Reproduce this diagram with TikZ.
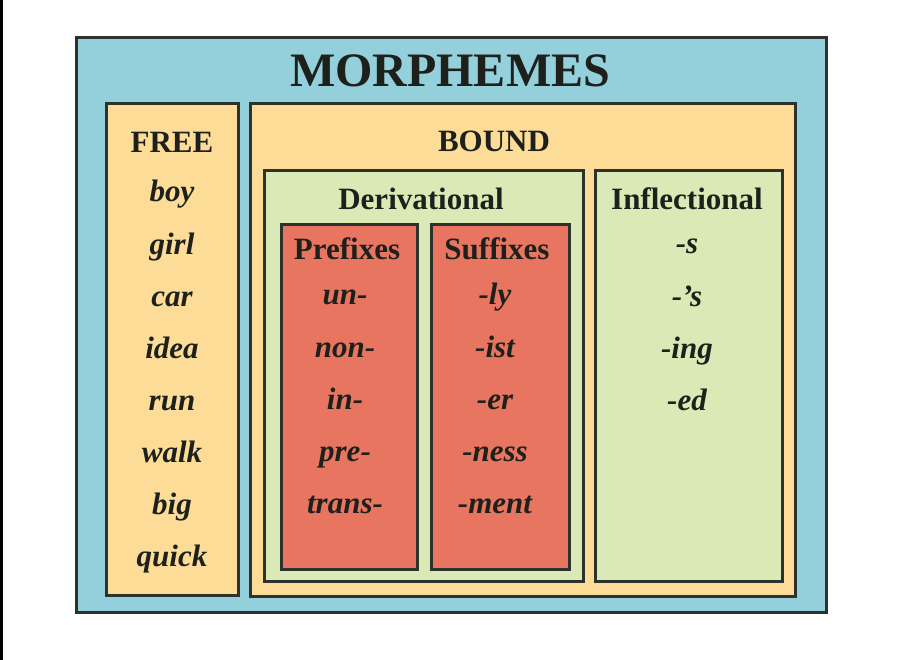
\documentclass[tikz,border=0pt]{standalone}
\usepackage{fontspec}
\setmainfont{Liberation Serif}
\usepackage{tikz}
\usetikzlibrary{positioning}
\definecolor{rim}{RGB}{45,50,45}
\definecolor{ink}{RGB}{30,32,28}
\definecolor{sky}{RGB}{148,208,219}
\definecolor{peach}{RGB}{252,220,150}
\definecolor{leaf}{RGB}{218,234,183}
\definecolor{coral}{RGB}{232,117,96}

\begin{document}
\begin{tikzpicture}[x=1pt,y=-1pt,node distance=52.1pt,
   box/.style={draw=rim, line width=3pt, inner sep=0pt},
   head/.style={font=\bfseries\fontsize{31}{31}\selectfont, text=ink,
                text height=21pt, text depth=7pt, inner sep=0pt},
   word/.style={head, font=\bfseries\itshape\fontsize{31}{31}\selectfont},
   bigtitle/.style={font=\bfseries\fontsize{48}{48}\selectfont, text=ink, inner sep=0pt}]
 \useasboundingbox (0,0) rectangle (906,660);
 \fill[black] (0,0) rectangle (3,660);
 % boxes
 \node[box, fill=sky,   minimum width=750pt, minimum height=574pt] (morph) at (451,325) {};
 \node[box, fill=peach, minimum width=132pt, minimum height=491pt] (free)  at (172,349.5) {};
 \node[box, fill=peach, minimum width=545pt, minimum height=492pt] (bound) at (522.5,350) {};
 \node[box, fill=leaf,  minimum width=319pt, minimum height=410pt] (deriv) at (423.5,376) {};
 \node[box, fill=leaf,  minimum width=187pt, minimum height=410pt] (infl)  at (688.5,376) {};
 \node[box, fill=coral, minimum width=136pt, minimum height=344pt] (pref)  at (349,397) {};
 \node[box, fill=coral, minimum width=138pt, minimum height=344pt] (suff)  at (500,397) {};
 % headings
 \node[bigtitle, anchor=base] (title) at (450,87) {MORPHEMES};
 \node[head] (freehead)  at (172,146) {FREE};
 \node[head] (boundhead) at (494,145) {BOUND};
 \node[head] (derivhead) at (421,203) {Derivational};
 \node[head] (inflhead)  at (687,203) {Inflectional};
 \node[head] (prefhead)  at (347,253) {Prefixes};
 \node[head] (suffhead)  at (497,253) {Suffixes};
 % free
 \node[word] (boy) at (172,195) {boy};
 \node[word, below of=boy]  (girl)  {girl};
 \node[word, below of=girl] (car)   {car};
 \node[word, below of=car]  (idea)  {idea};
 \node[word, below of=idea] (run)   {run};
 \node[word, below of=run]  (walk)  {walk};
 \node[word, below of=walk] (big)   {big};
 \node[word, below of=big]  (quick) {quick};
 % prefixes
 \node[word] (un) at (345,298) {un-};
 \node[word, below of=un]  (non)   {non-};
 \node[word, below of=non] (in)    {in-};
 \node[word, below of=in]  (pre)   {pre-};
 \node[word, below of=pre] (trans) {trans-};
 % suffixes
 \node[word] (ly) at (495,298) {-ly};
 \node[word, below of=ly]   (ist)  {-ist};
 \node[word, below of=ist]  (er)   {-er};
 \node[word, below of=er]   (ness) {-ness};
 \node[word, below of=ness] (ment) {-ment};
 % inflectional
 \node[word] (s) at (687,247) {-s};
 \node[word, below of=s]    (poss) {-'s};
 \node[word, below of=poss] (ing)  {-ing};
 \node[word, below of=ing]  (ed)   {-ed};
\end{tikzpicture}
\end{document}
